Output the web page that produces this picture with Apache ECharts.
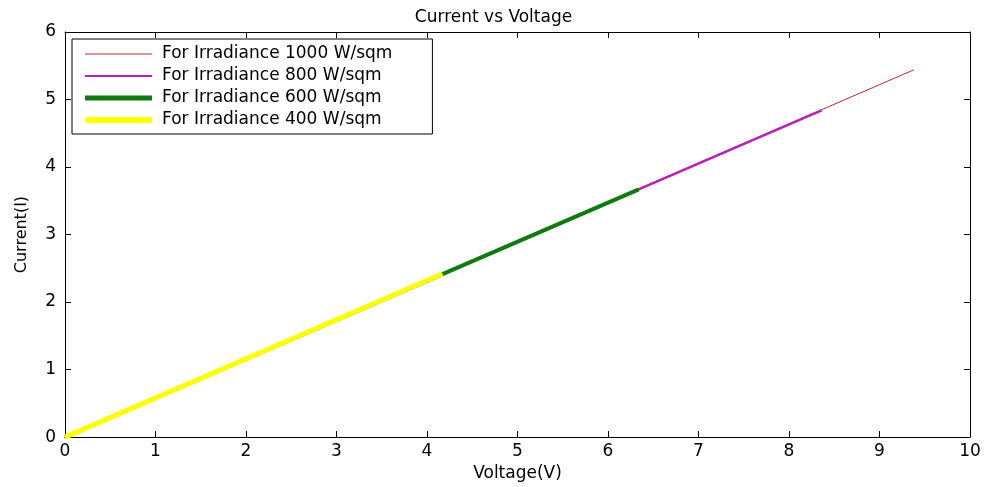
<!DOCTYPE html>
<html><head><meta charset="utf-8">
<script src="https://cdn.jsdelivr.net/npm/echarts@6/dist/echarts.min.js"></script>
<style>html,body{margin:0;padding:0;background:#fff}#c{width:987px;height:487px}</style>
</head><body><div id="c"></div>
<script>
const seriesNames = ['For Irradiance 1000 W/sqm','For Irradiance 800 W/sqm','For Irradiance 600 W/sqm','For Irradiance 400 W/sqm'];
const voltage1000 = [0, 9.38];
const current1000 = [0, 5.44];
const voltage800 = [0, 8.36];
const current800 = [0, 4.84];
const voltage600 = [0, 6.34];
const current600 = [0, 3.67];
const voltage400 = [0, 4.17];
const current400 = [0, 2.42];
const xTicks = [0,1,2,3,4,5,6,7,8,9,10];
const yTicks = [0,1,2,3,4,5,6];

const colors = ['#c0282a','#bb1fbb','#0f7a0f','#ffff00'];
const widths = [1,2.5,4,5];
const legendThickness = [1,2,5,6];
const xs = [voltage1000, voltage800, voltage600, voltage400];
const ys = [current1000, current800, current600, current400];

const font = '"DejaVu Sans", sans-serif';
const chart = echarts.init(document.getElementById('c'));
const axisLine = {show:true, onZero:false, lineStyle:{color:'#000', width:1}};
const tick = {show:true, inside:true, length:6, lineStyle:{color:'#000'}};
chart.setOption({
  animation:false,
  title:{text:'Current vs Voltage', left:'center', top:4, textStyle:{fontSize:17, fontWeight:'normal', color:'#000', fontFamily:font}},
  grid:{left:65, right:17, top:32, bottom:49},
  legend:{
    orient:'vertical', left:72, top:39, itemWidth:67, itemHeight:14, itemGap:2,
    padding:[5,40,4,13], backgroundColor:'#fff', borderColor:'#000', borderWidth:1, borderRadius:0,
    textStyle:{fontSize:17, color:'#000', fontFamily:font, lineHeight:20, padding:[0,0,0,5]},
    data: seriesNames.map((n,i)=>({name:n, icon:'path://M0,0H67V'+legendThickness[i]+'H0Z', itemStyle:{color:colors[i]}}))
  },
  xAxis:[
    {type:'value', min:0, max:10, interval:1, position:'bottom',
     name:'Voltage(V)', nameLocation:'middle', nameGap:27,
     nameTextStyle:{fontSize:17, color:'#000', fontFamily:font},
     axisLine, axisTick:tick,
     axisLabel:{fontSize:17, color:'#000', fontFamily:font, margin:6, formatter:v=>xTicks.includes(v)?String(v):''},
     splitLine:{show:false}},
    {type:'value', min:0, max:10, interval:1, position:'top',
     axisLine, axisTick:tick, axisLabel:{show:false}, splitLine:{show:false}}
  ],
  yAxis:[
    {type:'value', min:0, max:6, interval:1, position:'left',
     name:'Current(I)', nameLocation:'middle', nameGap:35, nameRotate:90,
     nameTextStyle:{fontSize:16, color:'#000', fontFamily:font},
     axisLine, axisTick:tick,
     axisLabel:{fontSize:17, color:'#000', fontFamily:font, margin:9, formatter:v=>yTicks.includes(v)?String(v):''},
     splitLine:{show:false}},
    {type:'value', min:0, max:6, interval:1, position:'right',
     axisLine, axisTick:tick, axisLabel:{show:false}, splitLine:{show:false}}
  ],
  series: seriesNames.map((n,i)=>({
    name:n, type:'line', showSymbol:false, symbol:'none',
    data: xs[i].map((x,j)=>[x, ys[i][j]]),
    lineStyle:{color:colors[i], width:widths[i]}, itemStyle:{color:colors[i]},
    z: 2+i
  }))
});
</script></body></html>
